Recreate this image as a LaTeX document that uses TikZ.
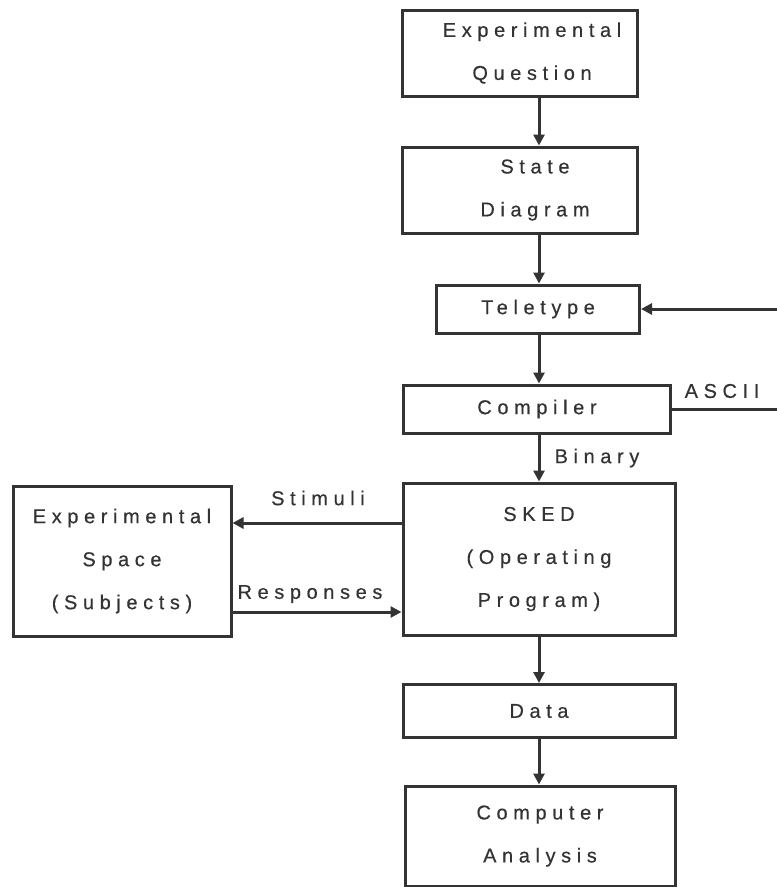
\documentclass[tikz,border=0pt]{standalone}
\usepackage{fontspec}
\setmainfont{Liberation Sans}[LetterSpace=28,FakeBold=0.4]
\usetikzlibrary{arrows.meta}
\definecolor{ink}{HTML}{333333}
\begin{document}
\begin{tikzpicture}[x=1pt,y=-1pt,
  box/.style={draw=ink,line width=3pt,minimum width=#1,inner sep=0pt,align=center,text=ink,font=\fontsize{20}{43}\selectfont},
  arr/.style={draw=ink,line width=3pt,-{Triangle[length=11pt,width=11pt]}},
  lin/.style={draw=ink,line width=3pt},
  lab/.style={text=ink,font=\fontsize{20}{20}\selectfont,inner sep=0pt}]
\useasboundingbox (0,0) rectangle (777,887);
\fill[white] (0,0) rectangle (777,887);
\node[box=235pt,minimum height=86pt] (eq) at (520,53) {\hspace*{24pt}Experimental\\\hspace*{24pt}Question};
\node[box=235pt,minimum height=86pt] (sd) at (520,190) {\hspace*{30pt}State\\\hspace*{30pt}Diagram};
\node[box=203pt,minimum height=48pt] (tt) at (538,309) {Teletype};
\node[box=267pt,minimum height=48pt] (cp) at (537,409) {Compiler};
\node[box=272pt,minimum height=152pt] (sk) at (539,559) {SKED\\(Operating\\Program)};
\node[box=218pt,minimum height=150pt] (es) at (122,561) {Experimental\\Space\\(Subjects)};
\node[box=272pt,minimum height=53pt] (da) at (539,711) {Data};
\node[box=270pt,minimum height=100pt] (ca) at (540,836) {Computer\\Analysis};
\coordinate (col) at (539,0);
\coordinate (rA) at (777,409);
\coordinate (rT) at (777,309);
\coordinate (yS) at (0,523);
\coordinate (yR) at (0,612);
\draw[arr] (eq.south -| col) -- (sd.north -| col);
\draw[arr] (sd.south -| col) -- (tt.north -| col);
\draw[arr] (tt.south -| col) -- (cp.north -| col);
\draw[arr] (cp.south -| col) -- (sk.north -| col);
\draw[arr] (sk.south -| col) -- (da.north -| col);
\draw[arr] (da.south -| col) -- (ca.north -| col);
\draw[lin] (cp.east) -- (rA);
\draw[arr] (rT) -- (tt.east);
\draw[arr] (sk.west |- yS) -- (es.east |- yS);
\draw[arr] (es.east |- yR) -- (sk.west |- yR);
\node[lab] (ascii) at (722,391) {ASCII};
\node[lab] (binary) at (597,458) {Binary};
\node[lab] (stim) at (318,498) {Stimuli};
\node[lab] (resp) at (310,594) {Responses};
\end{tikzpicture}
\end{document}
